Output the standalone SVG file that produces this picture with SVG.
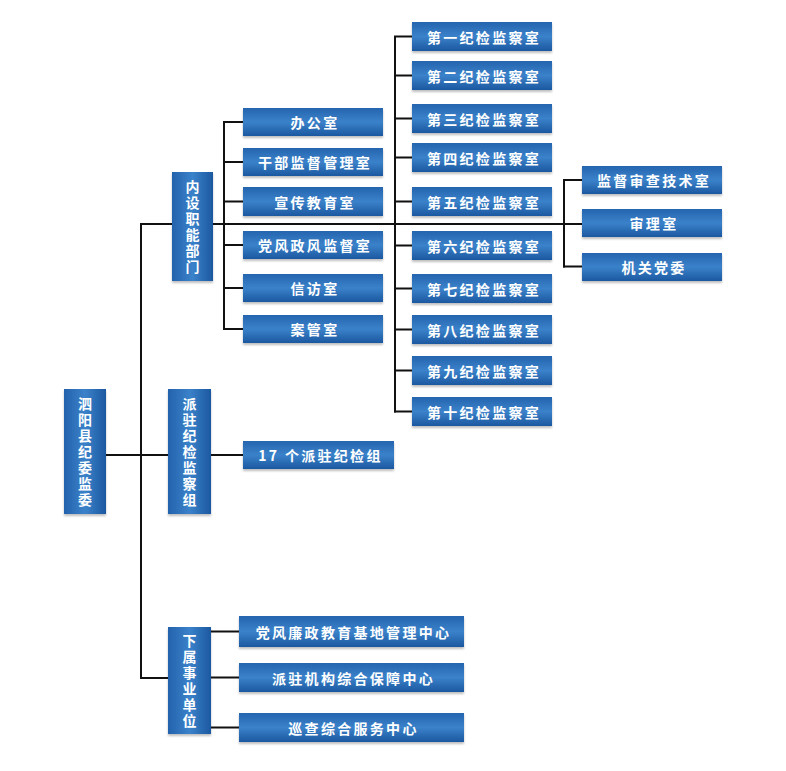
<svg xmlns="http://www.w3.org/2000/svg" width="786" height="771" viewBox="0 0 786 771">
<defs>
<linearGradient id="gh" x1="0" y1="0" x2="0" y2="1">
<stop offset="0" stop-color="#2564AE"/>
<stop offset="0.5" stop-color="#3A82CA"/>
<stop offset="1" stop-color="#1C58A0"/>
</linearGradient>
<linearGradient id="gv" x1="0" y1="0" x2="1" y2="0">
<stop offset="0" stop-color="#2462AC"/>
<stop offset="0.5" stop-color="#3A82CA"/>
<stop offset="1" stop-color="#1C58A0"/>
</linearGradient>
<filter id="sh" x="-10%" y="-10%" width="120%" height="130%">
<feDropShadow dx="0" dy="2" stdDeviation="1.2" flood-color="#000" flood-opacity="0.25"/>
</filter>
</defs>
<style>
.h{fill:url(#gh);filter:url(#sh)}
.v{fill:url(#gv);filter:url(#sh)}
text{font-family:"Noto Sans CJK SC","Noto Sans",sans-serif;font-size:14px;font-weight:bold;fill:#fff;text-anchor:middle;dominant-baseline:central;letter-spacing:2.3px}
.vt{writing-mode:vertical-rl;text-orientation:upright;letter-spacing:2px}
.c{stroke:#111;stroke-width:2;fill:none}
</style>
<rect width="786" height="771" fill="#fff"/>
<g id="connectors" class="c">
<path d="M106,455H168"/>
<path d="M141,223V679"/>
<path d="M140,224H172"/>
<path d="M140,678H168"/>
<path d="M211,455H243"/>
<path d="M213,224H582"/>
<path d="M224,121V330"/>
<path d="M224,122H243M224,162H243M224,201.5H243M224,245H243M224,288H243M224,329H243"/>
<path d="M395,36V412.5"/>
<path d="M394,36.5H412M394,75.5H412M394,118.5H412M394,157.5H412M394,201.5H412M394,245.5H412M394,288.5H412M394,329.5H412M394,370.5H412M394,411.5H412"/>
<path d="M564,179V267.5"/>
<path d="M563,180H582M563,266.5H582"/>
<path d="M211,631.5H239M211,677.5H239M211,727.5H239"/>
</g>
<g id="root"><rect class="v" x="64" y="389" width="42" height="125"/><text class="vt" x="85" y="452.5">泗阳县纪委监委</text></g>
<g id="neishe"><rect class="v" x="172" y="172" width="41" height="109"/><text class="vt" x="192.5" y="227.5">内设职能部门</text></g>
<g id="paizhu"><rect class="v" x="168" y="389" width="43" height="125"/><text class="vt" x="189.5" y="452.5">派驻纪检监察组</text></g>
<g id="xiashu"><rect class="v" x="168" y="627" width="43" height="107"/><text class="vt" x="189.5" y="682">下属事业单位</text></g>
<g id="n-bgs"><rect class="h" x="243" y="108" width="140" height="28"/><text x="315" y="122">办公室</text></g>
<g id="n-gb"><rect class="h" x="243" y="148" width="140" height="28"/><text x="315" y="162">干部监督管理室</text></g>
<g id="n-xc"><rect class="h" x="243" y="187" width="140" height="29"/><text x="315" y="201.5">宣传教育室</text></g>
<g id="n-df"><rect class="h" x="243" y="231" width="140" height="28"/><text x="315" y="245">党风政风监督室</text></g>
<g id="n-xf"><rect class="h" x="243" y="274" width="140" height="28"/><text x="315" y="288">信访室</text></g>
<g id="n-ag"><rect class="h" x="243" y="315" width="140" height="28"/><text x="315" y="329">案管室</text></g>
<g id="n-j1"><rect class="h" x="412" y="22" width="140" height="29"/><text x="484" y="36.5">第一纪检监察室</text></g>
<g id="n-j2"><rect class="h" x="412" y="61" width="140" height="29"/><text x="484" y="75.5">第二纪检监察室</text></g>
<g id="n-j3"><rect class="h" x="412" y="104" width="140" height="29"/><text x="484" y="118.5">第三纪检监察室</text></g>
<g id="n-j4"><rect class="h" x="412" y="143" width="140" height="29"/><text x="484" y="157.5">第四纪检监察室</text></g>
<g id="n-j5"><rect class="h" x="412" y="187" width="140" height="29"/><text x="484" y="201.5">第五纪检监察室</text></g>
<g id="n-j6"><rect class="h" x="412" y="231" width="140" height="29"/><text x="484" y="245.5">第六纪检监察室</text></g>
<g id="n-j7"><rect class="h" x="412" y="274" width="140" height="29"/><text x="484" y="288.5">第七纪检监察室</text></g>
<g id="n-j8"><rect class="h" x="412" y="315" width="140" height="29"/><text x="484" y="329.5">第八纪检监察室</text></g>
<g id="n-j9"><rect class="h" x="412" y="356" width="140" height="29"/><text x="484" y="370.5">第九纪检监察室</text></g>
<g id="n-j10"><rect class="h" x="412" y="397" width="140" height="29"/><text x="484" y="411.5">第十纪检监察室</text></g>
<g id="n-js"><rect class="h" x="582" y="166" width="140" height="28"/><text x="654" y="180">监督审查技术室</text></g>
<g id="n-sl"><rect class="h" x="582" y="209" width="140" height="28"/><text x="654" y="223">审理室</text></g>
<g id="n-jg"><rect class="h" x="582" y="253" width="140" height="28"/><text x="654" y="267">机关党委</text></g>
<g id="n-17"><rect class="h" x="243" y="441" width="151" height="28"/><text x="320.5" y="455">17 个派驻纪检组</text></g>
<g id="n-dflz"><rect class="h" x="239" y="616" width="225" height="31"/><text x="353.5" y="631.5">党风廉政教育基地管理中心</text></g>
<g id="n-pzjg"><rect class="h" x="239" y="663" width="225" height="29"/><text x="353.5" y="677.5">派驻机构综合保障中心</text></g>
<g id="n-xczh"><rect class="h" x="239" y="713" width="225" height="29"/><text x="353.5" y="727.5">巡查综合服务中心</text></g>
</svg>
